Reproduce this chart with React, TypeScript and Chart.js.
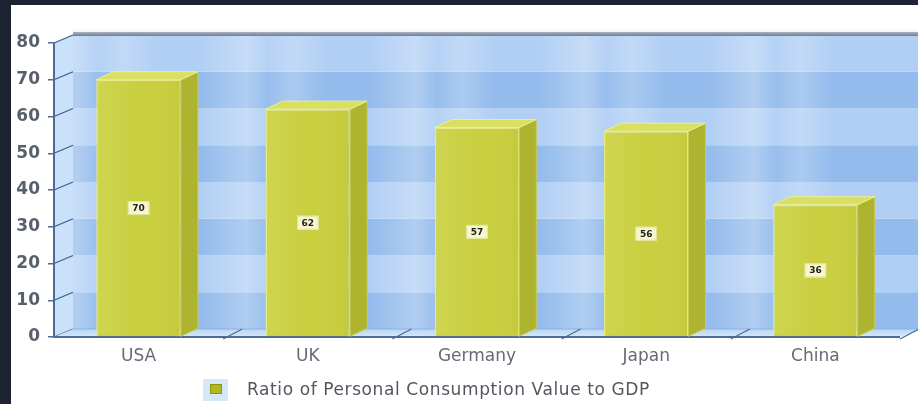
import React, { useEffect, useRef } from "react";
import { Chart, registerables } from "chart.js";

Chart.register(...registerables);

const categories = ["USA", "UK", "Germany", "Japan", "China"];
const values = [70, 62, 57, 56, 36];
const seriesLabel = "Ratio of Personal Consumption Value to GDP";
const yMin = 0;
const yMax = 80;
const yStep = 10;

const WALL_DX = 19;
const WALL_DY = 8;
const BAR_DX = 17;
const BAR_DY = 8;

const threeD = {
  id: "threeD",
  beforeDraw(chart: any) {
    const ctx = chart.ctx;
    ctx.save();
    ctx.fillStyle = "#1d2330";
    ctx.fillRect(0, 0, chart.width, chart.height);
    ctx.fillStyle = "#ffffff";
    ctx.fillRect(11, 5, chart.width - 11, chart.height - 5);
    ctx.restore();
  },
  beforeDatasetsDraw(chart: any) {
    const ctx = chart.ctx;
    const { left, right, top, bottom } = chart.chartArea;
    const ys = chart.scales.y;
    const xs = chart.scales.x;
    const n = categories.length;
    const catW = (right - left) / n;
    ctx.save();
    const sh = ctx.createLinearGradient(0, top - WALL_DY - 7, 0, top - WALL_DY);
    sh.addColorStop(0, "rgba(215,218,224,0)");
    sh.addColorStop(1, "rgba(215,218,224,0.5)");
    ctx.fillStyle = sh;
    ctx.fillRect(left + WALL_DX, top - WALL_DY - 7, right - left, 7);

    const x0 = left + WALL_DX;
    const x1 = right + WALL_DX;
    for (let v = yMin; v < yMax; v += yStep) {
      const yA = ys.getPixelForValue(v + yStep) - WALL_DY;
      const yB = ys.getPixelForValue(v) - WALL_DY;
      const idx = Math.round((v - yMin) / yStep);
      ctx.fillStyle = idx % 2 === 0 ? "#93bbec" : "#b1cff4";
      ctx.fillRect(x0, yA, x1 - x0, yB - yA);
    }
    const g = ctx.createLinearGradient(x0, 0, x1, 0);
    for (let i = 0; i <= n; i++) {
      const c = (i * catW) / (x1 - x0);
      const put = (p: number, a: number) => {
        if (p >= 0 && p <= 1) g.addColorStop(p, `rgba(255,255,255,${a})`);
      };
      put(c - 0.05, 0);
      put(c + 0.005, 0.28);
      put(c + 0.03, 0.05);
      put(c + 0.06, 0.22);
      put(c + 0.1, 0);
    }
    ctx.fillStyle = g;
    ctx.fillRect(x0, ys.getPixelForValue(yMax) - WALL_DY, x1 - x0, ys.getPixelForValue(yMin) - ys.getPixelForValue(yMax));

    const tg = ctx.createLinearGradient(0, top - WALL_DY - 3, 0, top - WALL_DY + 1);
    tg.addColorStop(0, "#a9b2c0");
    tg.addColorStop(1, "#6e7e96");
    ctx.fillStyle = tg;
    ctx.fillRect(x0, top - WALL_DY - 3, x1 - x0, 4);

    ctx.beginPath();
    ctx.moveTo(left, top);
    ctx.lineTo(left + WALL_DX, top - WALL_DY);
    ctx.lineTo(left + WALL_DX, bottom - WALL_DY);
    ctx.lineTo(left, bottom);
    ctx.closePath();
    ctx.fillStyle = "#c9e1fb";
    ctx.fill();
    ctx.strokeStyle = "#3f5f8a";
    ctx.lineWidth = 1.3;
    for (let v = yMin; v <= yMax; v += yStep) {
      const p = ys.getPixelForValue(v);
      ctx.beginPath();
      ctx.moveTo(left, p);
      ctx.lineTo(left + WALL_DX, p - WALL_DY);
      ctx.stroke();
    }

    ctx.beginPath();
    ctx.moveTo(left, bottom);
    ctx.lineTo(left + WALL_DX, bottom - WALL_DY);
    ctx.lineTo(right + WALL_DX, bottom - WALL_DY);
    ctx.lineTo(right, bottom);
    ctx.closePath();
    const fg = ctx.createLinearGradient(0, bottom - WALL_DY, 0, bottom);
    fg.addColorStop(0, "#b9d6f6");
    fg.addColorStop(1, "#d6e8fa");
    ctx.fillStyle = fg;
    ctx.fill();
    ctx.strokeStyle = "#8fb2dc";
    ctx.lineWidth = 1;
    ctx.beginPath();
    ctx.moveTo(left + WALL_DX, bottom - WALL_DY);
    ctx.lineTo(right + WALL_DX, bottom - WALL_DY);
    ctx.stroke();
    ctx.strokeStyle = "#4d6b94";
    ctx.lineWidth = 1.3;
    for (let i = 1; i <= n; i++) {
      const xb = xs.left + i * catW;
      ctx.beginPath();
      ctx.moveTo(xb, bottom + 2);
      ctx.lineTo(xb + WALL_DX, bottom - WALL_DY);
      ctx.stroke();
    }
    ctx.lineWidth = 2;
    ctx.beginPath();
    ctx.moveTo(left, bottom);
    ctx.lineTo(right, bottom);
    ctx.stroke();
    ctx.beginPath();
    ctx.moveTo(left, top - 1);
    ctx.lineTo(left, bottom + 1);
    ctx.stroke();
    ctx.restore();
  },
  afterDatasetsDraw(chart: any) {
    const ctx = chart.ctx;
    const meta = chart.getDatasetMeta(0);
    ctx.save();
    meta.data.forEach((bar: any, i: number) => {
      const { x, y, base, width } = bar.getProps(["x", "y", "base", "width"], true);
      const l = x - width / 2;
      const r = x + width / 2;
      const fgr = ctx.createLinearGradient(l, 0, r, 0);
      fgr.addColorStop(0, "rgba(255,255,200,0.12)");
      fgr.addColorStop(0.5, "rgba(255,255,255,0)");
      fgr.addColorStop(1, "rgba(120,120,0,0.06)");
      ctx.fillStyle = fgr;
      ctx.fillRect(l + 1, y + 1, width - 2, base - y - 2);
      ctx.beginPath();
      ctx.moveTo(r, y);
      ctx.lineTo(r + BAR_DX, y - BAR_DY);
      ctx.lineTo(r + BAR_DX, base - BAR_DY);
      ctx.lineTo(r, base);
      ctx.closePath();
      ctx.fillStyle = "#aeb430";
      ctx.fill();
      ctx.strokeStyle = "#c6cc52";
      ctx.lineWidth = 1;
      ctx.stroke();
      ctx.beginPath();
      ctx.moveTo(l, y);
      ctx.lineTo(l + BAR_DX, y - BAR_DY);
      ctx.lineTo(r + BAR_DX, y - BAR_DY);
      ctx.lineTo(r, y);
      ctx.closePath();
      ctx.fillStyle = "#d9df62";
      ctx.fill();
      ctx.strokeStyle = "#eaef96";
      ctx.stroke();
      const cy = (y + base) / 2;
      const txt = String(values[i]);
      ctx.font = "bold 9px 'DejaVu Sans'";
      const tw = ctx.measureText(txt).width;
      const bw = tw + 9;
      const bh = 14;
      ctx.fillStyle = "#f6f6cf";
      ctx.fillRect(x - bw / 2, cy - bh / 2, bw, bh);
      ctx.strokeStyle = "#e2e49a";
      ctx.lineWidth = 1;
      ctx.strokeRect(x - bw / 2 + 0.5, cy - bh / 2 + 0.5, bw - 1, bh - 1);
      ctx.fillStyle = "#222";
      ctx.textAlign = "center";
      ctx.textBaseline = "middle";
      ctx.fillText(txt, x, cy + 0.5);
    });
    ctx.restore();
  },
  afterDraw(chart: any) {
    const ctx = chart.ctx;
    const { left } = chart.chartArea;
    const lx = left + 149;
    const ly = 390;
    ctx.save();
    ctx.fillStyle = "#d6e8f8";
    ctx.fillRect(lx, ly - 11, 25, 22);
    ctx.fillStyle = "#b3b91c";
    ctx.fillRect(lx + 7, ly - 6, 12, 10);
    ctx.strokeStyle = "#8f9410";
    ctx.lineWidth = 1;
    ctx.strokeRect(lx + 7.5, ly - 5.5, 11, 9);
    ctx.fillStyle = "#52575f";
    ctx.font = "17px 'DejaVu Sans'";
    (ctx as any).letterSpacing = "0.6px";
    ctx.textAlign = "left";
    ctx.textBaseline = "middle";
    ctx.fillText(chart.data.datasets[0].label, lx + 44, ly + 1);
    ctx.restore();
  },
};

export default function App() {
  const ref = useRef<HTMLCanvasElement | null>(null);
  useEffect(() => {
    if (!ref.current) return;
    const chart = new Chart(ref.current, {
      type: "bar",
      data: {
        labels: categories,
        datasets: [
          {
            label: seriesLabel,
            data: values,
            backgroundColor: "#c9cf3e",
            borderColor: "#e3e983",
            borderWidth: 1.5,
            barPercentage: 0.5,
            categoryPercentage: 1,
          },
        ],
      },
      options: {
        animation: false,
        responsive: false,
        maintainAspectRatio: false,
        layout: { padding: { left: 0, top: 43, right: 18, bottom: 0 } },
        plugins: {
          legend: { display: false },
          tooltip: { enabled: false },
          title: { display: false },
        },
        scales: {
          x: {
            grid: { display: false },
            border: { display: false },
            ticks: {
              color: "#666a74",
              font: { family: "'DejaVu Sans'", size: 17 },
              padding: 1,
              maxRotation: 0,
            },
            afterFit: (s: any) => {
              s.height = 67;
            },
          },
          y: {
            min: yMin,
            max: yMax,
            grid: {
              display: true,
              drawOnChartArea: false,
              drawTicks: true,
              tickLength: 6,
              color: "#4d6b94",
              lineWidth: 1.5,
            },
            border: { display: false },
            ticks: {
              stepSize: yStep,
              color: "#58606e",
              font: { family: "'DejaVu Sans'", size: 17, weight: "bold" },
              padding: 8,
            },
            afterFit: (s: any) => {
              s.width = 54;
            },
          },
        },
      },
      plugins: [threeD],
    });
    return () => chart.destroy();
  }, []);
  return (
    <div style={{ position: "absolute", left: 0, top: 0, width: 918, height: 404 }}>
      <canvas ref={ref} width={918} height={404} style={{ display: "block", width: 918, height: 404 }} />
    </div>
  );
}
